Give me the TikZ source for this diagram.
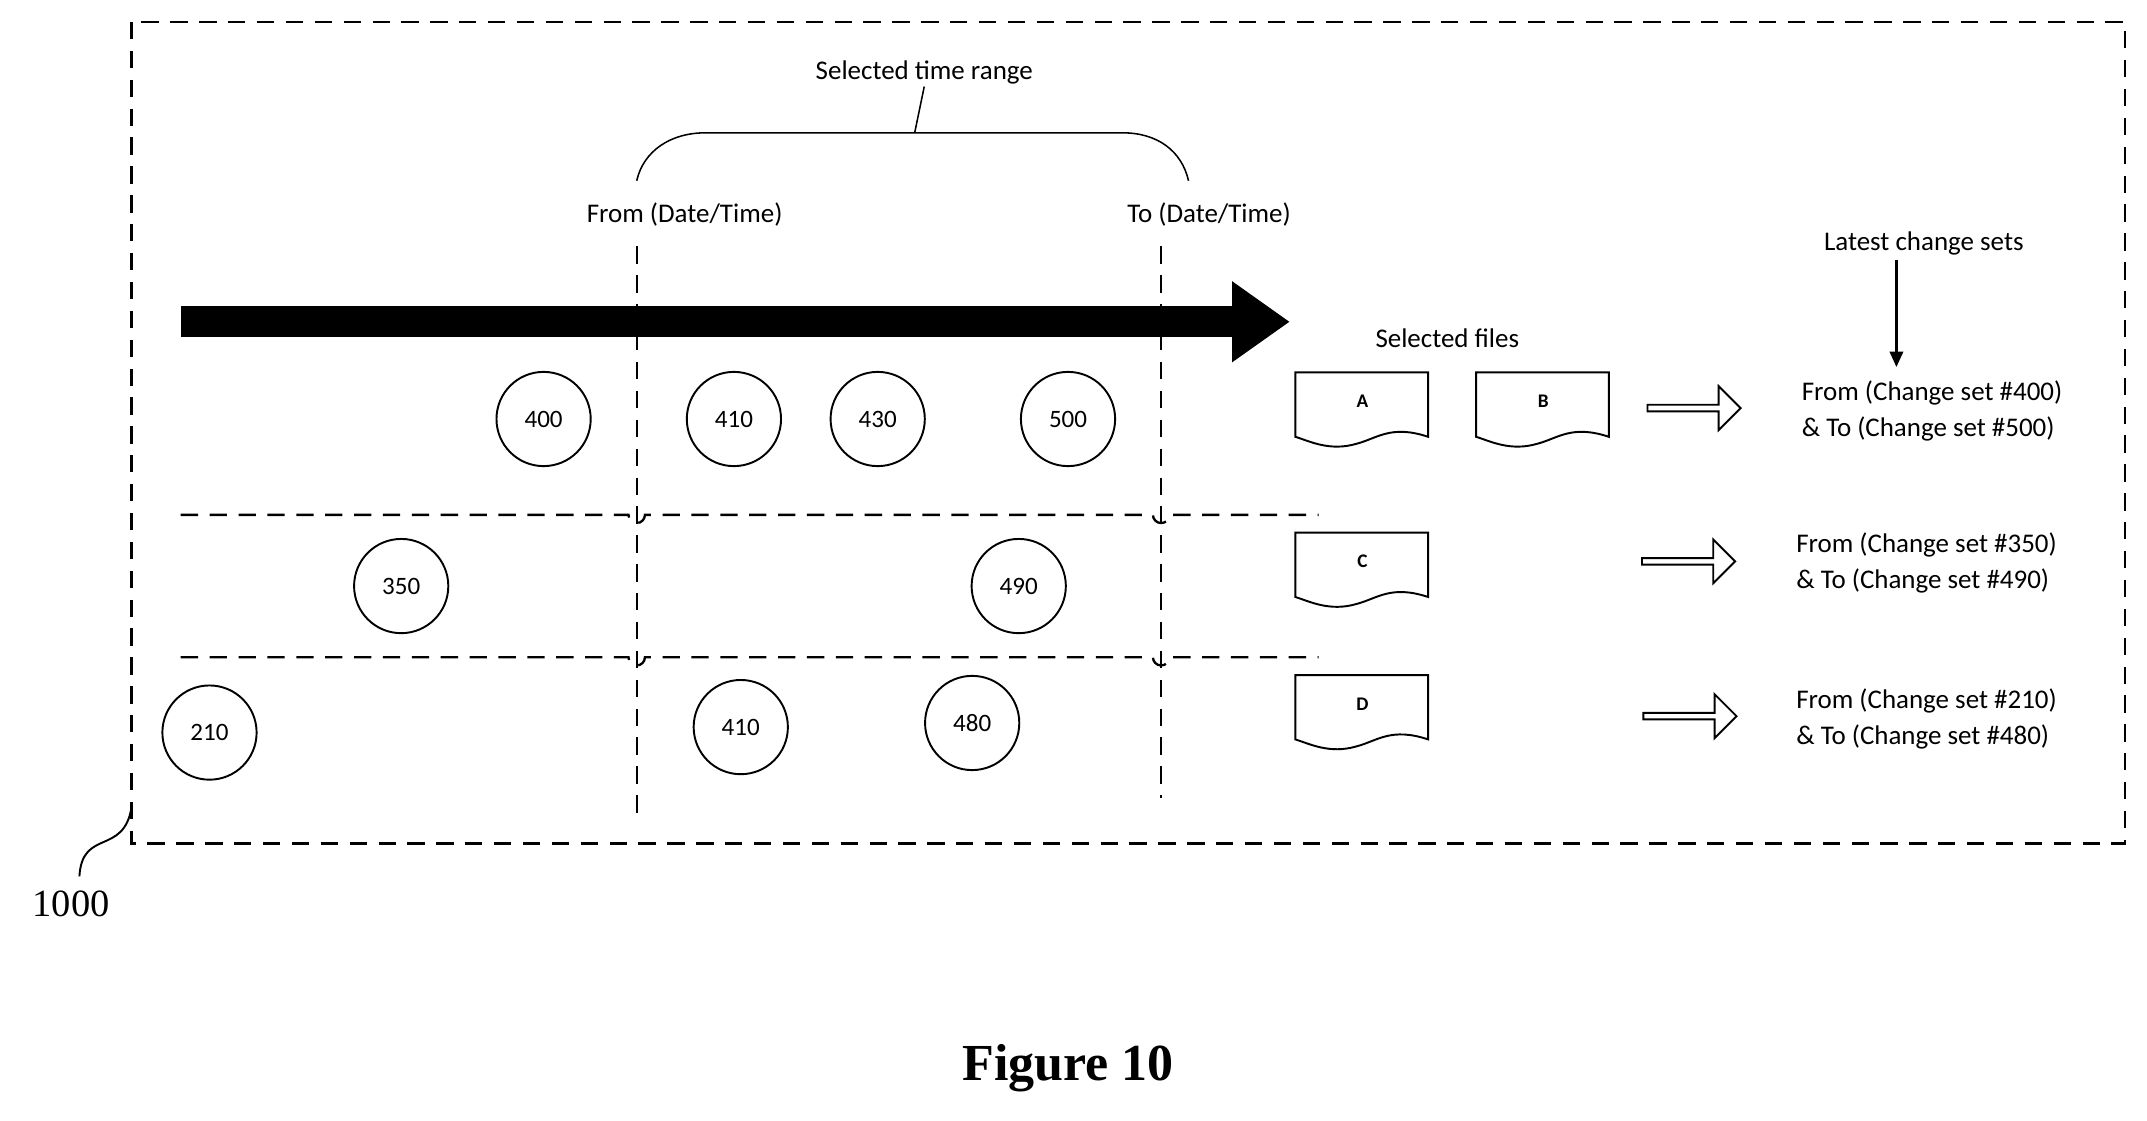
\documentclass[tikz,border=0pt]{standalone}
\usepackage{fontspec}
\setmainfont{Carlito}
\newfontfamily\serifft{Liberation Serif}
\usetikzlibrary{arrows.meta,shapes.arrows}
\begin{document}
\begin{tikzpicture}[x=0.025cm,y=-0.025cm,
  lbl/.style={font=\fontsize{14}{17}\selectfont,inner sep=1pt},
  cs/.style={circle,draw,line width=1pt,minimum size=1.72cm,font=\fontsize{13}{15}\selectfont},
  dsh/.style={line width=1.2pt,dash pattern=on 9pt off 6pt},
  doc/.style={line width=1pt},
  hol/.style={single arrow,draw,line width=1pt,minimum height=1.7cm,minimum width=0.8cm,single arrow head extend=0.1cm,inner sep=0pt,shape border rotate=0},
  txt/.style={align=left,font=\fontsize{14}{19}\selectfont,inner sep=1pt}]
\useasboundingbox (0,0) rectangle (1568,818);
\draw[dsh] (96,16) rectangle (1552,616);
\coordinate (w0) at (96,590); \coordinate (w1) at (58,640);
\draw[line width=1pt] (w0) .. controls (90,625) and (60,605) .. (w1);
\node[font=\serifft\fontsize{20}{22}\selectfont] (n1000) at (52,660) {1000};
% brace
\node[lbl] (str) at (675,53) {Selected time range};
\coordinate (bl) at (465,132); \coordinate (br) at (868,132); \coordinate (bm) at (668,97);
\draw[line width=0.8pt] (bl) .. controls (470,110) and (490,97) .. (515,97) -- (820,97) .. controls (845,97) and (863,110) .. (br);
\draw[line width=0.8pt] (bm) -- (str.south);
\node[lbl] (from) at (500,157) {From (Date/Time)};
\node[lbl] (to) at (883,157) {To (Date/Time)};
% thick arrow
\coordinate (a0) at (132,235); \coordinate (a1) at (942,235);
\draw[line width=16pt,-{Triangle[length=30pt,width=40pt]}] (a0) -- (a1);
% verticals
\draw[dsh] (465,180) -- (465,598);
\draw[dsh] (848,180) -- (848,583);
% horizontals with hops
\foreach \y in {376,480}{
 \draw[dsh] (132,\y) -- (459,\y) arc[start angle=180,end angle=0,radius=6] -- (842,\y) arc[start angle=180,end angle=0,radius=6] -- (963,\y);
}
\node[cs] (c400) at (397,306) {400};
\node[cs] (c410) at (536,306) {410};
\node[cs] (c430) at (641,306) {430};
\node[cs] (c500) at (780,306) {500};
\node[cs] (c350) at (293,428) {350};
\node[cs] (c490) at (744,428) {490};
\node[cs] (c210) at (153,535) {210};
\node[cs] (c410b) at (541,531) {410};
\node[cs] (c480) at (710,528) {480};
% documents
\foreach \n/\x/\y in {A/946/272,B/1078/272,C/946/389,D/946/493}{
 \draw[doc] (\x,\y) -- (\x+97,\y) -- (\x+97,\y+47) .. controls (\x+70,\y+38) and (\x+60,\y+48) .. (\x+45,\y+52) .. controls (\x+25,\y+58) and (\x+10,\y+50) .. (\x,\y+47) -- cycle;
 \node[font=\fontsize{10}{12}\selectfont\bfseries] (d\n) at (\x+49,\y+21) {\n};
}
\node[lbl] (sf) at (1057,247) {Selected files};
\node[hol] (h1) at (1236,298) {};
\node[hol] (h2) at (1232,410) {};
\node[hol] (h3) at (1233,523) {};
\node[txt] (t1) at (1411,300) {From (Change set \#400)\\\& To (Change set \#500)};
\node[txt] (t2) at (1407,411) {From (Change set \#350)\\\& To (Change set \#490)};
\node[txt] (t3) at (1407,525) {From (Change set \#210)\\\& To (Change set \#480)};
\node[lbl] (lcs) at (1405,178) {Latest change sets};
\coordinate (lt) at (1385,268);
\draw[line width=1.2pt,-{Triangle[length=8pt,width=7pt]}] (1385,190) -- (lt);
\node[font=\serifft\bfseries\fontsize{27}{30}\selectfont] (fig) at (780,780) {Figure 10};
\end{tikzpicture}
\end{document}
